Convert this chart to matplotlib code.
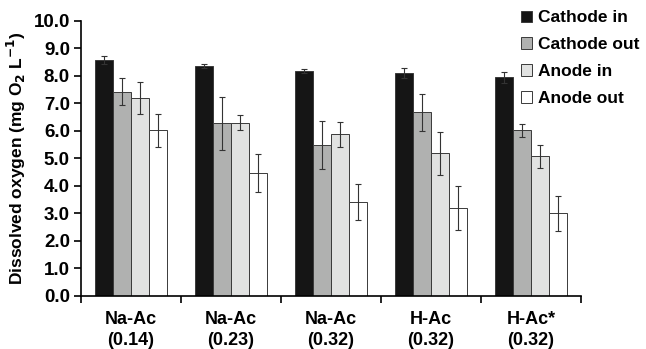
import matplotlib.pyplot as plt
import numpy as np

plt.rcParams['font.family'] = ['Liberation Sans', 'DejaVu Sans']
plt.rcParams['font.weight'] = 'bold'

categories = ['Na-Ac\n(0.14)', 'Na-Ac\n(0.23)', 'Na-Ac\n(0.32)', 'H-Ac\n(0.32)', 'H-Ac*\n(0.32)']
series = ['Cathode in', 'Cathode out', 'Anode in', 'Anode out']
cathode_in = [8.58, 8.35, 8.19, 8.11, 7.96]
cathode_in_err = [0.16, 0.07, 0.08, 0.17, 0.2]
cathode_out = [7.43, 6.28, 5.48, 6.68, 6.02]
cathode_out_err = [0.48, 0.97, 0.87, 0.68, 0.24]
anode_in = [7.19, 6.30, 5.88, 5.18, 5.08]
anode_in_err = [0.58, 0.28, 0.45, 0.77, 0.41]
anode_out = [6.02, 4.47, 3.41, 3.19, 3.00]
anode_out_err = [0.60, 0.70, 0.66, 0.80, 0.65]

values = [cathode_in, cathode_out, anode_in, anode_out]
errors = [cathode_in_err, cathode_out_err, anode_in_err, anode_out_err]
colors = ['#151515', '#b0b1b0', '#e1e2e1', '#ffffff']

fig = plt.figure(figsize=(6.46, 3.49), dpi=100)
ax = fig.add_axes([0.1254, 0.152, 0.774, 0.788])

x = np.arange(len(categories)) + 0.5
w = 0.18
for i, (v, e, c, name) in enumerate(zip(values, errors, colors, series)):
    ax.bar(x + (i - 1.5) * w, v, w, yerr=e, color=c, edgecolor='#3a3a3a',
           linewidth=0.7, label=name,
           error_kw=dict(ecolor='#333333', elinewidth=0.8, capsize=2.5, capthick=0.8))

ax.set_xlim(0, 5)
ax.set_ylim(0, 10)
ax.set_yticks(np.arange(0, 10.1, 1.0))
ax.set_yticklabels(['%.1f' % t for t in np.arange(0, 10.1, 1.0)], fontsize=13.5, fontweight='bold')
ax.set_xticks(np.arange(0, 5.1, 1))
ax.set_xticklabels([])
ax.set_xticks(x, minor=True)
ax.set_xticklabels(categories, minor=True, fontsize=13, fontweight='bold', linespacing=1.3)
ax.tick_params(axis='x', which='minor', length=0, pad=11)
ax.tick_params(axis='x', which='major', length=5, width=1.2, direction='out')
ax.tick_params(axis='y', length=5, width=1.2, direction='out', pad=3)

for s in ['top', 'right']:
    ax.spines[s].set_visible(False)
for s in ['left', 'bottom']:
    ax.spines[s].set_linewidth(1.2)

ax.set_ylabel('Dissolved oxygen (mg O$_\\mathbf{2}$ L$^\\mathbf{-1}$)', fontsize=12.5,
              fontweight='bold', labelpad=4)

fig.legend(loc='upper left', bbox_to_anchor=(0.79, 1.0), frameon=False,
           prop=dict(size=12.5, weight='bold'), handlelength=0.65, handleheight=0.65,
           handletextpad=0.35, labelspacing=0.68, borderaxespad=0.2)

fig.savefig('out.png', dpi=100)
